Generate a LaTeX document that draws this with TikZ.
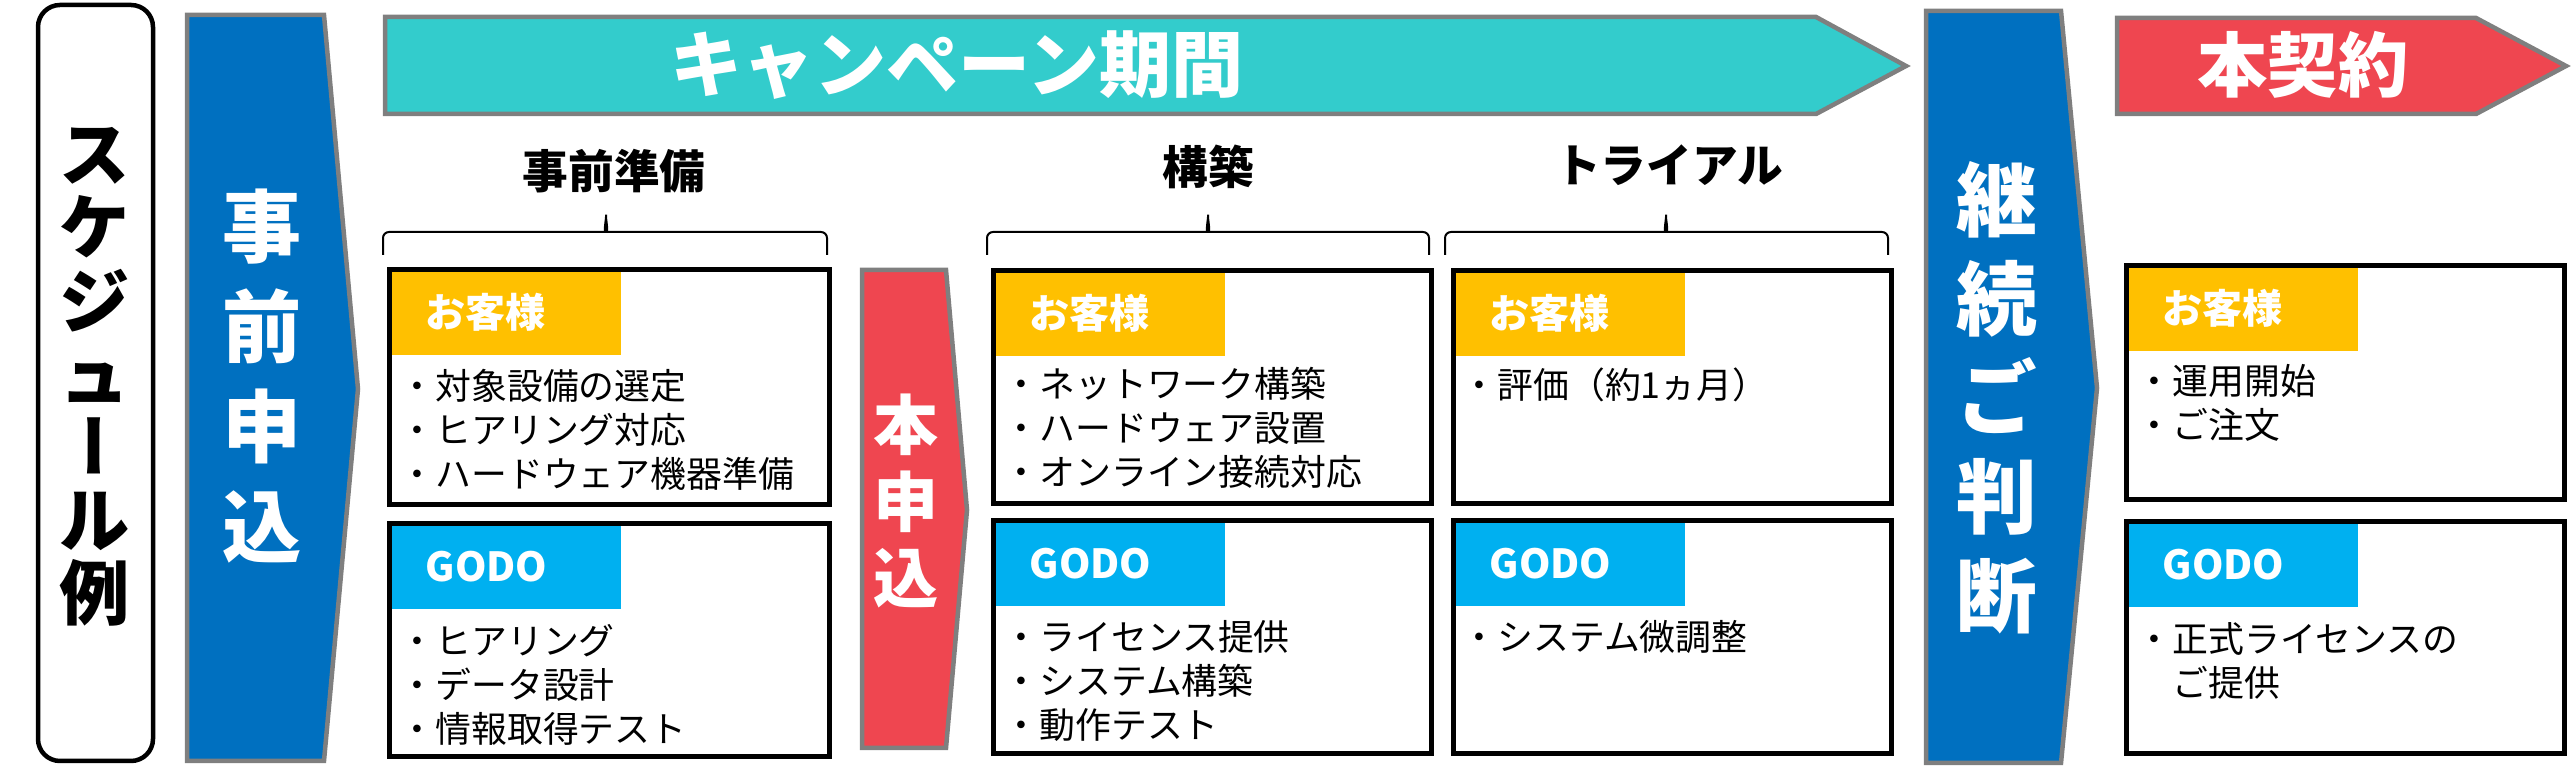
\documentclass[tikz,border=0pt]{standalone}
\usepackage{fontspec}
\setmainfont{Noto Sans CJK JP}
\newfontfamily\vertjp{Noto Sans CJK JP}[RawFeature=+vert]
\definecolor{applyblue}{HTML}{0070C0}
\definecolor{campaigncyan}{HTML}{33CCCC}
\definecolor{contractred}{HTML}{EF4650}
\definecolor{edgegray}{HTML}{7F7F7F}
\definecolor{custyellow}{HTML}{FFC000}
\definecolor{godoblue}{HTML}{00B0F0}
\begin{document}
\begin{tikzpicture}[x=0.1mm, y=-0.1mm,
    arrowbody/.style={draw=edgegray, line width=0.45mm},
    panel/.style={draw=black, line width=0.5mm},
    phasebrace/.style={draw=black, line width=0.2mm, rounded corners=0.6mm},
    tab/.style={anchor=north west, minimum width=23.1mm, minimum height=8.4mm,
      inner xsep=3.6mm, inner ysep=0pt, text width=15.9mm, align=left,
      text=white, font=\fontsize{11.4}{13}\selectfont\bfseries},
    custtab/.style={tab, fill=custyellow},
    godotab/.style={tab, fill=godoblue},
    items/.style={anchor=north west, inner sep=0pt, align=left,
      font=\fontsize{10.2}{12.5}\selectfont},
    phase/.style={font=\fontsize{13}{15}\selectfont\bfseries}]
  \useasboundingbox (0,0) rectangle (2573,777);

  \draw[line width=0.45mm, rounded corners=2.2mm] (38,5) rectangle (153,761);
  \node[align=center, font=\fontsize{20}{20.8}\selectfont\bfseries] (schedule) at (95,377)
    {ス\\ケ\\ジ\\ュ\\{\vertjp ー}\\ル\\例};

  \path[arrowbody, fill=applyblue] (187,15) -- (324,15) -- (358,389) -- (324,761) -- (187,761) -- cycle;
  \node[align=center, text=white, font=\fontsize{22.5}{28.4}\selectfont\bfseries] (preapply) at (262,376)
    {事\\前\\申\\込};

  \path[arrowbody, fill=campaigncyan] (385,17) -- (1816,17) -- (1906,66) -- (1816,114) -- (385,114) -- cycle;
  \node[text=white, font=\fontsize{20.5}{24}\selectfont\bfseries] (campaign) at (957,65) {キャンペーン期間};

  \path[arrowbody, fill=contractred] (862,270) -- (946,270) -- (967,510) -- (946,748) -- (862,748) -- cycle;
  \node[align=center, text=white, font=\fontsize{18.5}{21.9}\selectfont\bfseries] (mainapply) at (906,501)
    {本\\申\\込};

  \path[arrowbody, fill=applyblue] (1926,11) -- (2061,11) -- (2097,388) -- (2061,763) -- (1926,763) -- cycle;
  \node[align=center, text=white, font=\fontsize{23}{28.2}\selectfont\bfseries] (decision) at (1997,398)
    {継\\続\\ご\\判\\断};

  \path[arrowbody, fill=contractred] (2117,18) -- (2476,18) -- (2566,66) -- (2476,114) -- (2117,114) -- cycle;
  \node[text=white, font=\fontsize{20}{24}\selectfont\bfseries] (contract) at (2303,65) {本契約};

  \node[phase] (prephead) at (614,171) {事前準備};
  \node[phase] (buildhead) at (1208,167) {構築};
  \node[phase] (trialhead) at (1669,165) {トライアル};

  \draw[phasebrace] (383,255) -- (383,232) -- (600,232) to[out=0, in=-90] (606,211)
    to[out=-90, in=180] (612,232) -- (827,232) -- (827,255);
  \draw[phasebrace] (987,255) -- (987,232) -- (1202,232) to[out=0, in=-90] (1208,211)
    to[out=-90, in=180] (1214,232) -- (1429,232) -- (1429,255);
  \draw[phasebrace] (1445,255) -- (1445,232) -- (1660,232) to[out=0, in=-90] (1666,211)
    to[out=-90, in=180] (1672,232) -- (1888,232) -- (1888,255);

  \node[custtab] (prepcust) at (389,270) {お客様};
  \node[godotab] (prepgodo) at (389,524) {GODO};
  \node[custtab] (buildcust) at (993,271) {お客様};
  \node[godotab] (buildgodo) at (993,521) {GODO};
  \node[custtab] (trialcust) at (1453,271) {お客様};
  \node[godotab] (trialgodo) at (1453,521) {GODO};
  \node[custtab] (contractcust) at (2126,266) {お客様};
  \node[godotab] (contractgodo) at (2126,522) {GODO};

  \draw[panel] (389,270) rectangle (829,505);
  \draw[panel] (389,524) rectangle (829,757);
  \draw[panel] (993,271) rectangle (1431,504);
  \draw[panel] (993,521) rectangle (1431,754);
  \draw[panel] (1453,271) rectangle (1891,504);
  \draw[panel] (1453,521) rectangle (1891,754);
  \draw[panel] (2126,266) rectangle (2564,500);
  \draw[panel] (2126,522) rectangle (2564,754);

  \node[items] (prepcustlist) at (399,369) {・対象設備の選定\\・ヒアリング対応\\・ハードウェア機器準備};
  \node[items] (prepgodolist) at (399,624) {・ヒアリング\\・データ設計\\・情報取得テスト};
  \node[items] (buildcustlist) at (1003,367) {・ネットワーク構築\\・ハードウェア設置\\・オンライン接続対応};
  \node[items] (buildgodolist) at (1003,620) {・ライセンス提供\\・システム構築\\・動作テスト};
  \node[items] (trialcustlist) at (1461,367) {・評価（約1ヵ月）};
  \node[items] (trialgodolist) at (1461,620) {・システム微調整};
  \node[items] (contractcustlist) at (2136,364) {・運用開始\\・ご注文};
  \node[items] (contractgodolist) at (2136,622) {・正式ライセンスの\\\hphantom{・}ご提供};
\end{tikzpicture}
\end{document}
